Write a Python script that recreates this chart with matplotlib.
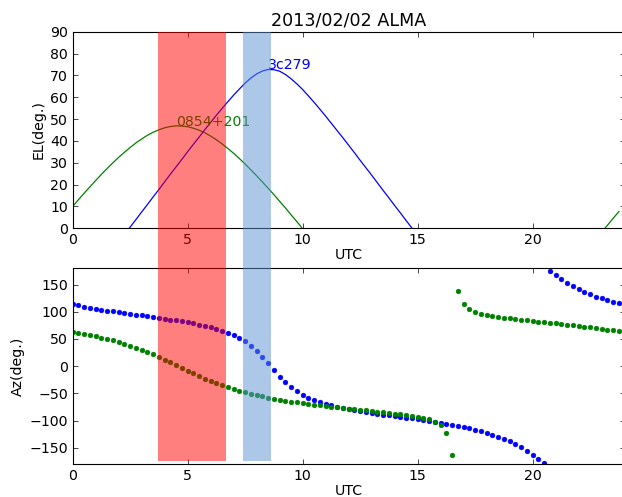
import numpy as np
import matplotlib
matplotlib.use("Agg")
import matplotlib.pyplot as plt
from matplotlib.patches import Rectangle
from matplotlib.transforms import blended_transform_factory

# Sample times (UTC hours, 15-minute steps)
utc = [
    0.0, 0.25, 0.5, 0.75, 1.0, 1.25, 1.5, 1.75,
    2.0, 2.25, 2.5, 2.75, 3.0, 3.25, 3.5, 3.75,
    4.0, 4.25, 4.5, 4.75, 5.0, 5.25, 5.5, 5.75,
    6.0, 6.25, 6.5, 6.75, 7.0, 7.25, 7.5, 7.75,
    8.0, 8.25, 8.5, 8.75, 9.0, 9.25, 9.5, 9.75,
    10.0, 10.25, 10.5, 10.75, 11.0, 11.25, 11.5, 11.75,
    12.0, 12.25, 12.5, 12.75, 13.0, 13.25, 13.5, 13.75,
    14.0, 14.25, 14.5, 14.75, 15.0, 15.25, 15.5, 15.75,
    16.0, 16.25, 16.5, 16.75, 17.0, 17.25, 17.5, 17.75,
    18.0, 18.25, 18.5, 18.75, 19.0, 19.25, 19.5, 19.75,
    20.0, 20.25, 20.5, 20.75, 21.0, 21.25, 21.5, 21.75,
    22.0, 22.25, 22.5, 22.75, 23.0, 23.25, 23.5, 23.75,
]

# Azimuth (deg) of each source at every sample time
az_3c279 = [
    113.9, 111.6, 109.5, 107.5, 105.7, 103.9, 102.2, 100.6,
    99.1, 97.5, 96.1, 94.6, 93.2, 91.7, 90.2, 88.8,
    87.3, 85.7, 84.1, 82.4, 80.5, 78.6, 76.5, 74.2,
    71.6, 68.8, 65.5, 61.7, 57.2, 51.9, 45.5, 37.8,
    28.4, 17.5, 5.4, -7.2, -19.2, -29.9, -39.0, -46.5,
    -52.7, -57.9, -62.3, -66.0, -69.2, -72.0, -74.6, -76.8,
    -78.9, -80.8, -82.6, -84.3, -85.9, -87.5, -89.0, -90.5,
    -91.9, -93.4, -94.8, -96.3, -97.8, -99.3, -100.8, -102.5,
    -104.1, -105.9, -107.8, -109.8, -111.9, -114.2, -116.7, -119.5,
    -122.5, -125.9, -129.6, -133.7, -138.4, -143.5, -149.3, -155.7,
    -162.6, -170.0, -177.7, 174.6, 167.0, 159.8, 153.0, 146.9,
    141.4, 136.4, 132.0, 128.0, 124.5, 121.3, 118.4, 115.7,
]
az_0854 = [
    63.0, 61.2, 59.3, 57.2, 55.0, 52.7, 50.2, 47.4,
    44.5, 41.3, 37.9, 34.3, 30.4, 26.2, 21.7, 17.0,
    12.1, 7.1, 2.0, -3.2, -8.3, -13.3, -18.2, -22.8,
    -27.2, -31.3, -35.2, -38.8, -42.1, -45.2, -48.1, -50.8,
    -53.3, -55.6, -57.7, -59.7, -61.6, -63.4, -65.1, -66.7,
    -68.2, -69.6, -71.0, -72.3, -73.5, -74.8, -75.9, -77.1,
    -78.2, -79.3, -80.4, -81.5, -82.6, -83.7, -84.8, -86.0,
    -87.2, -88.5, -89.8, -91.4, -93.2, -95.3, -98.1, -102.2,
    -108.8, -123.0, -163.3, 137.6, 114.3, 105.0, 99.9, 96.6,
    94.2, 92.2, 90.6, 89.1, 87.8, 86.6, 85.4, 84.3,
    83.1, 82.1, 81.0, 79.9, 78.8, 77.7, 76.5, 75.4,
    74.2, 72.9, 71.6, 70.3, 68.9, 67.4, 65.9, 64.3,
]

# Elevation (deg) around each source's pass above the horizon
el_3c279 = [  # utc[9:61]
    -2.9, 0.6, 4.0, 7.5, 10.9, 14.4, 17.8, 21.3,
    24.8, 28.2, 31.6, 35.1, 38.5, 41.8, 45.2, 48.5,
    51.8, 54.9, 58.0, 61.0, 63.8, 66.5, 68.8, 70.7,
    72.0, 72.7, 72.6, 71.9, 70.4, 68.4, 66.1, 63.5,
    60.6, 57.6, 54.5, 51.3, 48.0, 44.7, 41.4, 38.0,
    34.6, 31.1, 27.7, 24.3, 20.8, 17.3, 13.9, 10.4,
    7.0, 3.5, 0.1, -3.4,
]
el_0854_day = [  # utc[0:41]
    10.0, 13.1, 16.1, 19.0, 21.9, 24.7, 27.4, 30.0,
    32.5, 34.8, 37.0, 39.1, 40.9, 42.6, 44.0, 45.1,
    46.0, 46.6, 46.9, 46.8, 46.5, 45.8, 44.9, 43.7,
    42.2, 40.5, 38.6, 36.5, 34.3, 31.9, 29.4, 26.7,
    24.0, 21.2, 18.3, 15.4, 12.3, 9.3, 6.1, 3.0,
    -0.2,
]
el_0854_night = [-1.8, 1.4, 4.6, 7.7]  # utc[92:96]

# Highlighted observing windows (UTC hours)
red_window = (3.72, 6.68)
blue_window = (7.39, 8.62)

title = "2013/02/02 ALMA"
name_3c279 = "3c279"
name_0854 = "0854+201"

BLUE = (0.0, 0.0, 1.0)
GREEN = (0.0, 0.5, 0.0)
FS = 10.2

plt.rcParams.update({
    "font.family": ["DejaVu Sans"],
    "font.size": FS,
    "axes.linewidth": 0.8,
    "xtick.direction": "in",
    "ytick.direction": "in",
    "xtick.top": True,
    "ytick.right": True,
    "xtick.major.size": 3.5,
    "ytick.major.size": 3.5,
    "xtick.major.width": 0.5,
    "ytick.major.width": 0.5,
    "xtick.major.pad": 3.4,
    "ytick.major.pad": 3.4,
    "xtick.labelsize": FS,
    "ytick.labelsize": FS,
    "axes.labelsize": FS,
})

W, H = 622, 497
fig = plt.figure(figsize=(W / 100, H / 100), dpi=100)

left = 72.7 / W
width = 552.0 / W
ax1 = fig.add_axes([left, 1 - 228.3 / H, width, 196.6 / H])
ax2 = fig.add_axes([left, 1 - 464.0 / H, width, 195.7 / H])

t = np.array(utc)

# Elevation panel
ax1.plot(t[0:41], el_0854_day, color=GREEN, lw=0.9)
ax1.plot(t[92:96], el_0854_night, color=GREEN, lw=0.9)
ax1.plot(t[9:61], el_3c279, color=BLUE, lw=0.9)

i_b = int(np.argmax(el_3c279))
ax1.text(t[9:61][i_b], el_3c279[i_b], name_3c279, color=BLUE, fontsize=FS)
i_g = int(np.argmax(el_0854_day))
ax1.text(t[0:41][i_g], el_0854_day[i_g], name_0854, color=GREEN, fontsize=FS)

ax1.set_xlim(0, 24)
ax1.set_ylim(0, 90)
ax1.set_yticks(range(0, 91, 10))
ax1.set_xticks([0, 5, 10, 15, 20])
ax1.set_xlabel("UTC", labelpad=1.0)
ax1.set_ylabel("EL(deg.)", labelpad=3)
ax1.set_title(title, fontsize=12.6, pad=4.5)

# Azimuth panel
ax2.plot(t, az_3c279, "o", color=BLUE, ms=3.5, mew=0.3)
ax2.plot(t, az_0854, "o", color=GREEN, ms=3.5, mew=0.3)
ax2.set_xlim(0, 24)
ax2.set_ylim(-180, 180)
ax2.set_yticks([-150, -100, -50, 0, 50, 100, 150])
ax2.set_xticks([0, 5, 10, 15, 20])
ax2.set_xlabel("UTC", labelpad=1.0)
ax2.set_ylabel("Az(deg.)", labelpad=3)

# Observing windows shaded across both panels
trans = blended_transform_factory(ax2.transData, fig.transFigure)
y0 = 1 - 460.7 / H
y1 = 1 - 31.7 / H
for (x0, x1), col in ((red_window, "red"), (blue_window, "#5D91D5")):
    fig.add_artist(Rectangle((x0, y0), x1 - x0, y1 - y0, transform=trans,
                             facecolor=col, edgecolor="none", alpha=0.5,
                             zorder=10))

fig.savefig("out.png", dpi=100)
